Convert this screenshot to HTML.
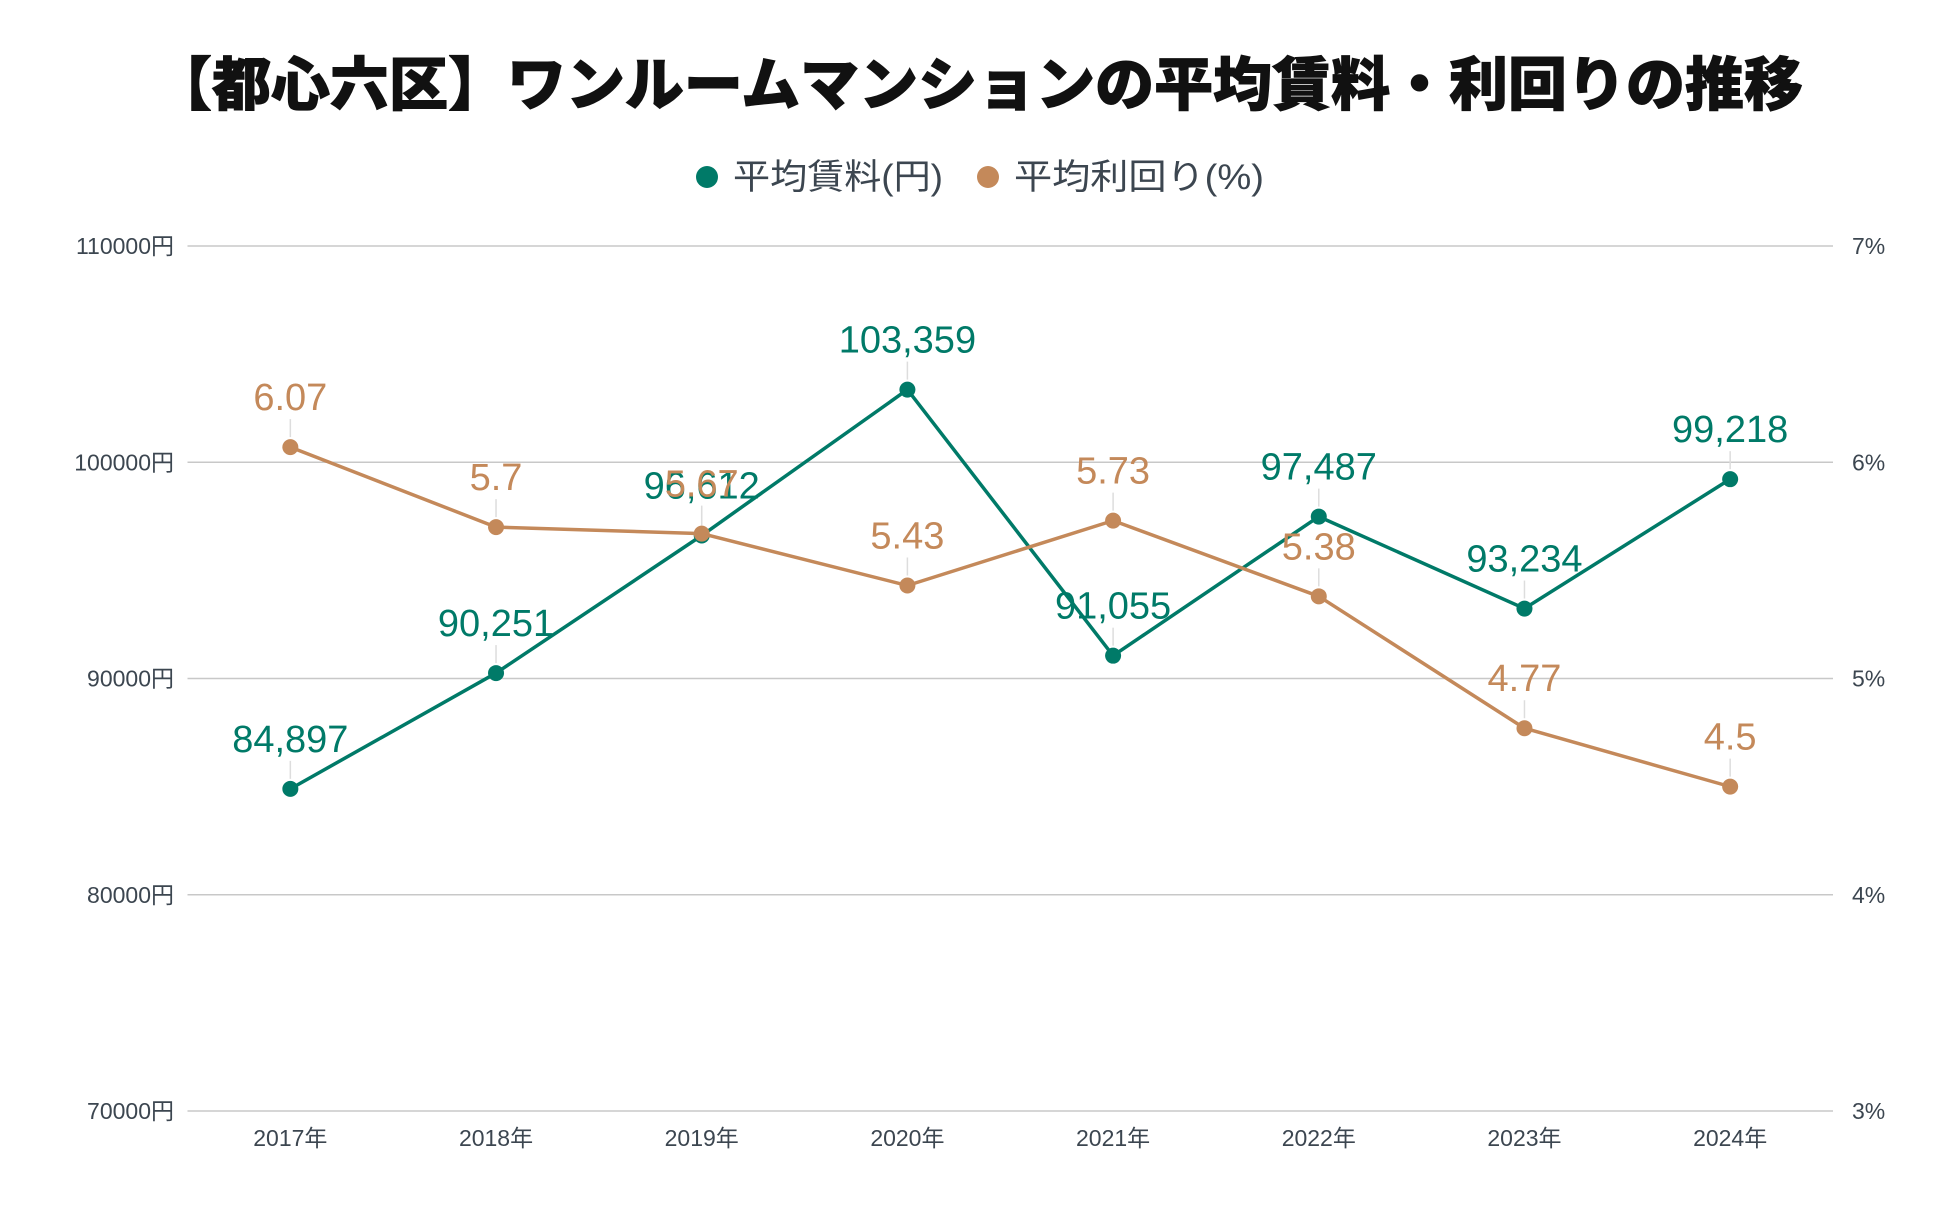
<!DOCTYPE html>
<html><head><meta charset="utf-8"><style>
body{margin:0;background:#fff;}
svg{display:block;font-family:"Liberation Sans","Noto Sans CJK JP",sans-serif;}
</style></head><body>
<svg id="chart" width="1950" height="1207" viewBox="0 0 1950 1207">
<text x="978" y="105" text-anchor="middle" font-size="58" font-weight="900" fill="#111" stroke="#111" stroke-width="1" textLength="1650" lengthAdjust="spacingAndGlyphs">【都心六区】ワンルームマンションの平均賃料・利回りの推移</text>
<g>
<g><circle cx="707" cy="177" r="11" fill="#007a68"/><text x="733" y="189" font-size="35" fill="#3c4650" textLength="210" lengthAdjust="spacingAndGlyphs">平均賃料(円)</text></g>
<g><circle cx="988" cy="177" r="11" fill="#c4895a"/><text x="1014" y="189" font-size="35" fill="#3c4650" textLength="250" lengthAdjust="spacingAndGlyphs">平均利回り(%)</text></g>
</g>
<g id="grid"></g><g id="series"></g>
</svg>
<script>
const categories=["2017年","2018年","2019年","2020年","2021年","2022年","2023年","2024年"];
const rentValues=[84897,90251,96612,103359,91055,97487,93234,99218];
const rentLabels=["84,897","90,251","96,612","103,359","91,055","97,487","93,234","99,218"];
const yieldValues=[6.07,5.7,5.67,5.43,5.73,5.38,4.77,4.5];
const leftTicks=[70000,80000,90000,100000,110000];
const rightTicks=[3,4,5,6,7];
const NS="http://www.w3.org/2000/svg";
const L=187.5,R=1833,T=246,B=1111;
const band=(R-L)/categories.length;
const x=i=>L+band*(i+0.5);
const yL=v=>B-(v-70000)/40000*(B-T);
const yR=v=>B-(v-3)/4*(B-T);
function mk(tag,a,parent,txt){const e=document.createElementNS(NS,tag);for(const k in a)e.setAttribute(k,a[k]);if(txt!==undefined)e.textContent=txt;parent.appendChild(e);return e;}
const grid=document.getElementById('grid'),ser=document.getElementById('series');
leftTicks.forEach((t,i)=>{
 const yy=yL(t);
 const ln=mk('line',{x1:L,x2:R,y1:yy,y2:yy,stroke:'#c8c8c8','stroke-width':1.5},grid);
 
 
 const tl=mk('text',{x:174,y:yy+8,'text-anchor':'end','font-size':23,fill:'#3c4650'},grid,t+'円');
 
 
 const tr=mk('text',{x:1852,y:yR(rightTicks[i])+8,'font-size':23,fill:'#3c4650'},grid,rightTicks[i]+'%');
 
 
});
categories.forEach((c,i)=>{
 const t=mk('text',{x:x(i),y:1146,'text-anchor':'middle','font-size':23,fill:'#3c4650'},grid,c);
 
 
});
function series(vals,labels,yf,color,name){
 const g=mk('g',{},ser);
 
 
 const p=mk('polyline',{points:vals.map((v,i)=>x(i)+','+yf(v)).join(' '),fill:'none',stroke:color,'stroke-width':3.5,'stroke-linejoin':'round'},g);
 
 
 vals.forEach((v,i)=>{
  const ld=mk('line',{x1:x(i),x2:x(i),y1:yf(v)-10,y2:yf(v)-28,stroke:'#ddd','stroke-width':1.5},g);
  
  
  const c=mk('circle',{cx:x(i),cy:yf(v),r:8,fill:color},g);
  
  
  const t=mk('text',{x:x(i),y:yf(v)-37,'text-anchor':'middle','font-size':38,fill:color},g,labels[i]);
  
  
 });
}
series(rentValues,rentLabels,yL,'#007a68','rent');
series(yieldValues,yieldValues.map(String),yR,'#c4895a','yield');
</script>
</body></html>
